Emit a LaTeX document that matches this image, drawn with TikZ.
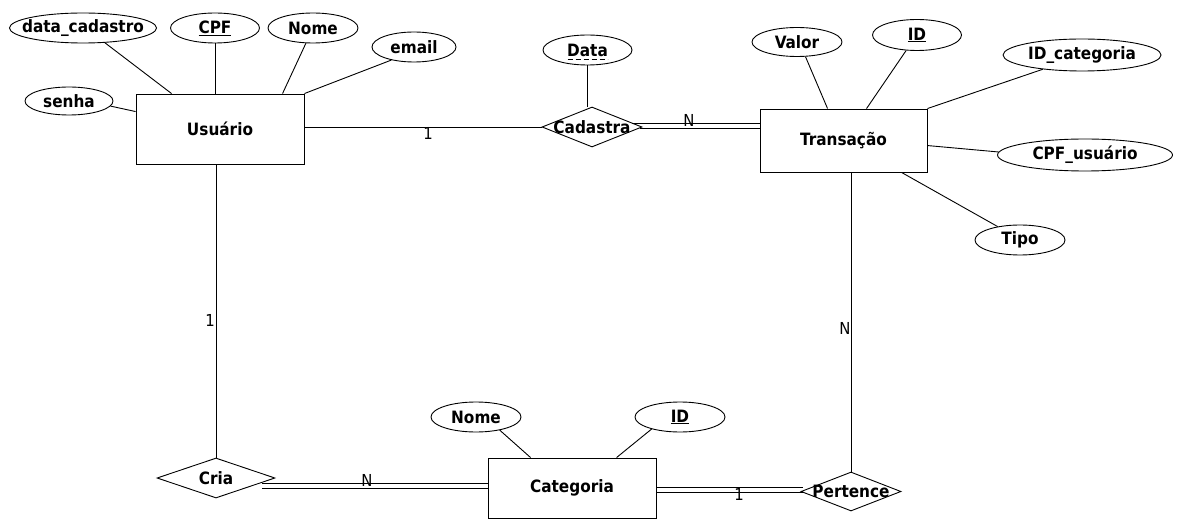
\documentclass[tikz,border=0pt]{standalone}
\usepackage{fontspec}
\setmainfont{DejaVu Sans Condensed}
\usetikzlibrary{shapes.geometric,calc}
\newcommand\fixw[1]{\makebox[0pt]{#1}}
\begin{document}
\begin{tikzpicture}[x=1pt,y=-1pt,
  bold/.style={font=\fontsize{17}{20}\selectfont\bfseries},
  entity/.style={draw, rectangle, inner sep=0pt, line width=0.9pt, bold},
  attr/.style={draw, ellipse, inner sep=0pt, minimum height=30pt, line width=0.9pt, bold},
  rel/.style={draw, diamond, inner sep=0pt, line width=0.9pt, bold},
  card/.style={inner sep=0pt, font=\fontsize{16.5}{20}\selectfont},
  ln/.style={line width=0.9pt}]
\useasboundingbox[fill=white] (0,0) rectangle (1183,529);

% entities
\node[entity, minimum width=168pt, minimum height=70pt] (usu) at (220,129) {Usuário};
\node[entity, minimum width=167pt, minimum height=63pt] (trans) at (843.5,140.5) {Transação};
\node[entity, minimum width=168pt, minimum height=60pt] (cat) at (572,488) {Categoria};

% relationships
\node[rel, minimum width=100pt, minimum height=40pt] (cad) at (592,127) {\fixw{Cadastra}};
\node[rel, minimum width=118pt, minimum height=40pt] (cria) at (216,478) {\fixw{Cria}};
\node[rel, minimum width=100pt, minimum height=39pt] (pert) at (851,491.5) {\fixw{Pertence}};

% attributes of Usuario
\node[attr, minimum width=147pt] (dc) at (83,28) {\fixw{data\_cadastro}};
\node[attr, minimum width=89pt] (cpf) at (215,28) {\fixw{\underline{CPF}}};
\node[attr, minimum width=90pt] (nome) at (313,28) {\fixw{Nome}};
\node[attr, minimum width=84pt] (email) at (414,47) {\fixw{email}};
\node[attr, minimum width=88pt, minimum height=28pt] (senha) at (69,101) {\fixw{senha}};

% attribute of Cadastra
\node[attr, minimum width=89pt] (data) at (587.5,50) {\fixw{Data}};
\draw[line width=0.9pt, dash pattern=on 5pt off 3pt] ($(data.base)+(-20,3)$) -- ($(data.base)+(20,3)$);

% attributes of Transacao
\node[attr, minimum width=90pt, minimum height=29pt] (valor) at (797,42) {\fixw{Valor}};
\node[attr, minimum width=89pt, minimum height=31pt] (idt) at (917,35) {\fixw{\underline{ID}}};
\node[attr, minimum width=158pt, minimum height=32pt] (idcat) at (1082,55) {\fixw{ID\_categoria}};
\node[attr, minimum width=175pt, minimum height=32pt] (cpfu) at (1085,155) {\fixw{CPF\_usuário}};
\node[attr, minimum width=90pt] (tipo) at (1020,240) {\fixw{Tipo}};

% attributes of Categoria
\node[attr, minimum width=90pt, minimum height=30pt] (nomec) at (476,417) {\fixw{Nome}};
\node[attr, minimum width=90pt] (idc) at (680,417) {\fixw{\underline{ID}}};

% attribute connectors
\draw[ln] (dc.-34) -- ($(usu.north west)+(36,0)$);
\draw[ln] (cpf.south) -- (cpf.south |- usu.north);
\draw[ln] (nome.-115) -- ($(usu.north west)+(147,0)$);
\draw[ln] (email.-150) -- (usu.north east);
\draw[ln] (senha.-7) -- ($(usu.north west)+(0,18)$);
\draw[ln] (data.south) -- (data.south |- cad.north);
\draw[ln] (valor.-60) -- ($(trans.north west)+(68,0)$);
\draw[ln] (idt.-125) -- ($(trans.north west)+(107,0)$);
\draw[ln] (idcat.-160) -- (trans.north east);
\draw[ln] (cpfu.178) -- ($(trans.north east)+(0,37)$);
\draw[ln] (tipo.149) -- ($(trans.south west)+(142,0)$);
\draw[ln] (nomec.-29) -- ($(cat.north west)+(43,0)$);
\draw[ln] (idc.-157) -- ($(cat.north west)+(129,0)$);

% relationship connectors
\draw[ln] (usu.east |- cad.west) -- (cad.west);
\draw[ln] ($(cad.east)+(-10,-4)$) -- ($(cad.east -| trans.west)+(0,-4)$);
\draw[ln] ($(cad.east)+(-2.5,1)$) -- ($(cad.east -| trans.west)+(0,1)$);
\draw[ln] (cria.north |- usu.south) -- (cria.north);
\draw[ln] ($(cria.east)+(-13,5)$) -- ($(cria.east -| cat.west)+(0,5)$);
\draw[ln] ($(cria.east)+(-13,10)$) -- ($(cria.east -| cat.west)+(0,10)$);
\draw[ln] (pert.north |- trans.south) -- (pert.north);
\draw[ln] ($(pert.west -| cat.east)+(0,-4)$) -- ($(pert.west)+(2,-4)$);
\draw[ln] ($(pert.west -| cat.east)+(0,1)$) -- ($(pert.west)+(2,1)$);

% cardinalities
\node[card] (c1) at (428,133) {1};
\node[card] (c2) at (689,120) {N};
\node[card] (c3) at (210,320) {1};
\node[card] (c4) at (845,328) {N};
\node[card] (c5) at (367,480) {N};
\node[card] (c6) at (739,494) {1};
\end{tikzpicture}
\end{document}
